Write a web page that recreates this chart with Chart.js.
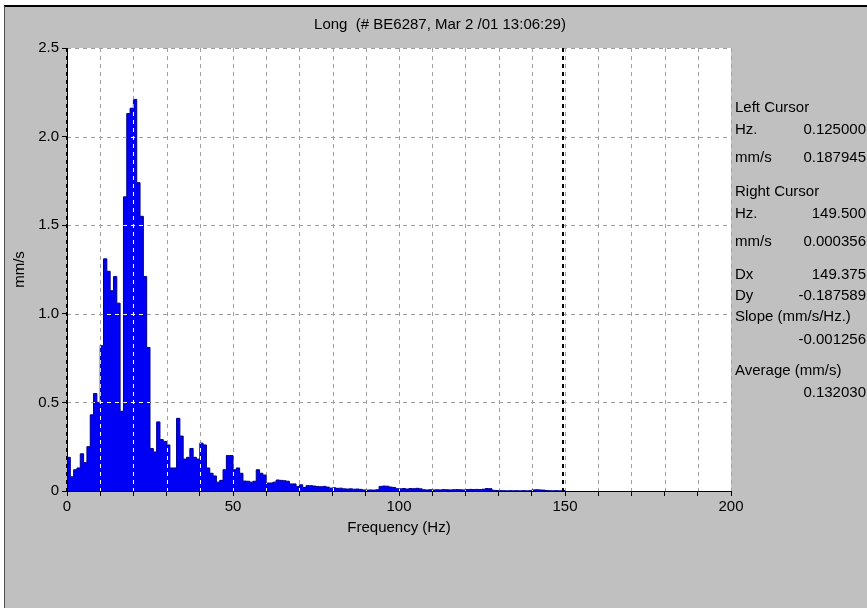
<!DOCTYPE html>
<html>
<head>
<meta charset="utf-8">
<script src="https://cdn.jsdelivr.net/npm/chart.js@4/dist/chart.umd.min.js"></script>
<style>
  html, body { margin: 0; padding: 0; background: #fff; }
  body { width: 867px; height: 608px; position: relative; overflow: hidden;
         font-family: "Liberation Sans", Arial, sans-serif; font-size: 15px; color: #000; }
  #panel { position: absolute; left: 4px; top: 5px; width: 863px; height: 603px;
           background: #c0c0c0; border-top: 2px solid #000; border-left: 1px solid #505050;
           box-sizing: border-box; }
  #spectrum { position: absolute; left: 0; top: 0; }
  #title { position: absolute; left: 440px; top: 15px; transform: translateX(-50%);
           white-space: pre; line-height: 18px; }
  .row { position: absolute; left: 735px; width: 131px; height: 18px; line-height: 18px; white-space: nowrap; }
  .row .v { position: absolute; right: 0; top: 0; }
</style>
</head>
<body>
<div id="panel"></div>
<canvas id="spectrum" width="867" height="608"></canvas>
<div id="title"></div>
<div id="readout"></div>
<script>
// spectrum, 1 Hz lines, bin i covers [i, i+1) Hz, values in mm/s
const binHz = 1;
const amplitude = [
  0.19, 0.08, 0.12, 0.13, 0.21, 0.16, 0.25, 0.43, 0.55, 0.50,
  0.82, 1.31, 1.24, 1.13, 1.21, 1.06, 0.45, 1.66, 2.13, 2.16,
  2.21, 1.74, 1.55, 1.21, 0.81, 0.24, 0.22, 0.39, 0.29, 0.28,
  0.26, 0.13, 0.13, 0.41, 0.31, 0.18, 0.19, 0.24, 0.19, 0.18,
  0.27, 0.26, 0.13, 0.10, 0.085, 0.05, 0.06, 0.12, 0.20, 0.20,
  0.12, 0.13, 0.10, 0.056, 0.055, 0.05, 0.055, 0.12, 0.10, 0.09,
  0.045, 0.045, 0.05, 0.062, 0.06, 0.058, 0.055, 0.04, 0.04, 0.025,
  0.035, 0.02, 0.03, 0.03, 0.028, 0.025, 0.024, 0.026, 0.022, 0.016,
  0.018, 0.015, 0.016, 0.012, 0.011, 0.012, 0.010, 0.011, 0.009, 0.006,
  0.005, 0.006, 0.005, 0.007, 0.026, 0.028, 0.027, 0.022, 0.020, 0.013,
  0.012, 0.014, 0.011, 0.014, 0.013, 0.015, 0.012, 0.007, 0.006, 0.007,
  0.006, 0.007, 0.006, 0.008, 0.007, 0.006, 0.007, 0.008, 0.007, 0.006,
  0.008, 0.009, 0.008, 0.009, 0.008, 0.010, 0.014, 0.013, 0.004, 0.003,
  0.002, 0.002, 0.001, 0.002, 0.001, 0.002, 0.001, 0.002, 0.001, 0.002,
  0.006, 0.007, 0.006, 0.005, 0.003, 0.002, 0.001, 0.002, 0.001, 0.003,
  0.0004
];
const freqHz = amplitude.map((_, i) => i * binHz);

const cursorHz = [0.125, 149.5];

const titleText = "Long  (# BE6287, Mar 2 /01 13:06:29)";
const readoutLabels = ["Left Cursor", "Hz.", "mm/s", "Right Cursor", "Hz.", "mm/s",
                       "Dx", "Dy", "Slope (mm/s/Hz.)", "", "Average (mm/s)", ""];
const readoutValues = ["", "0.125000", "0.187945", "", "149.500", "0.000356",
                       "149.375", "-0.187589", "", "-0.001256", "", "0.132030"];

// layout of the readout column (centre y of each line)
const readoutRowY = [107, 129, 157, 191, 213, 241, 274, 295, 316, 339, 370, 392];

document.getElementById("title").textContent = titleText;
const readout = document.getElementById("readout");
readoutLabels.forEach((lab, i) => {
  const row = document.createElement("div");
  row.className = "row";
  row.style.top = (readoutRowY[i] - 9) + "px";
  row.textContent = lab;
  const v = document.createElement("span");
  v.className = "v";
  v.textContent = readoutValues[i];
  row.appendChild(v);
  readout.appendChild(row);
});

const px = (v) => Math.round(v) + 0.5;

// white plot area behind everything
const plotBackground = {
  id: "plotBackground",
  beforeDraw(chart) {
    const { ctx, chartArea: a } = chart;
    ctx.save();
    ctx.fillStyle = "#ffffff";
    ctx.fillRect(a.left, a.top, a.right - a.left, a.bottom - a.top);
    ctx.restore();
  }
};

function strokeGrid(chart, color) {
  const { ctx, chartArea: a, scales: { x, y } } = chart;
  ctx.strokeStyle = color;
  ctx.lineWidth = 1;
  ctx.setLineDash([4, 4]);
  ctx.beginPath();
  x.ticks.forEach(t => {
    if (t.value === 0) return;
    const xp = px(x.getPixelForValue(t.value));
    ctx.moveTo(xp, a.top);
    ctx.lineTo(xp, a.bottom);
  });
  y.ticks.forEach(t => {
    if (t.value === 0) return;
    const yp = px(y.getPixelForValue(t.value));
    ctx.moveTo(a.left, yp);
    ctx.lineTo(a.right, yp);
  });
  ctx.stroke();
}

// grey dashed grid under the spectrum, white where it crosses the fill
const dashedGrid = {
  id: "dashedGrid",
  beforeDatasetsDraw(chart) {
    chart.ctx.save();
    strokeGrid(chart, "#a0a0a0");
    chart.ctx.restore();
  },
  afterDatasetsDraw(chart) {
    const { ctx, scales: { y } } = chart;
    const pts = chart.getDatasetMeta(0).data;
    const base = y.getPixelForValue(0);
    ctx.save();
    ctx.beginPath();
    ctx.moveTo(pts[0].x, base);
    pts.forEach((p, i) => {
      if (i > 0) ctx.lineTo(p.x, pts[i - 1].y);
      ctx.lineTo(p.x, p.y);
    });
    ctx.lineTo(pts[pts.length - 1].x, base);
    ctx.closePath();
    ctx.clip();
    strokeGrid(chart, "#ffffff");
    ctx.restore();
  }
};

// left / right cursor lines
const cursors = {
  id: "cursors",
  afterDraw(chart) {
    const { ctx, chartArea: a, scales: { x } } = chart;
    ctx.save();
    ctx.strokeStyle = "#000000";
    ctx.lineWidth = 2;
    ctx.setLineDash([4, 4]);
    cursorHz.forEach(hz => {
      const xp = Math.round(x.getPixelForValue(hz));
      ctx.beginPath();
      ctx.moveTo(xp, a.top);
      ctx.lineTo(xp, a.bottom);
      ctx.stroke();
    });
    ctx.restore();
  }
};

Chart.defaults.font.family = '"Liberation Sans", Arial, sans-serif';
Chart.defaults.font.size = 15;
Chart.defaults.color = "#000";

new Chart(document.getElementById("spectrum"), {
  type: "line",
  data: {
    datasets: [{
      data: freqHz.map((f, i) => ({ x: f, y: amplitude[i] })),
      stepped: "before",
      fill: "origin",
      backgroundColor: "#0000f4",
      borderColor: "#00008a",
      borderWidth: 1,
      pointRadius: 0
    }]
  },
  options: {
    responsive: false,
    animation: false,
    layout: { padding: { top: 48, right: 136, left: 0, bottom: 0 } },
    plugins: {
      legend: { display: false },
      tooltip: { enabled: false }
    },
    scales: {
      x: {
        type: "linear",
        min: 0,
        max: 200,
        afterFit: (s) => { s.height = 117; },
        ticks: {
          stepSize: 10,
          autoSkip: false,
          maxRotation: 0,
          padding: 2,
          callback: (v) => (v % 50 === 0 ? String(v) : "")
        },
        grid: { drawOnChartArea: false, drawTicks: true, tickLength: 5, tickColor: "#000" },
        border: { display: true, color: "#000", width: 1, z: 1 },
        title: { display: true, text: "Frequency (Hz)", padding: { top: 0, bottom: 71 } }
      },
      y: {
        min: 0,
        max: 2.5,
        afterFit: (s) => { s.width = 67; },
        ticks: {
          stepSize: 0.5,
          padding: 3,
          callback: (v) => (v === 0 ? "0" : v.toFixed(1))
        },
        grid: { drawOnChartArea: false, drawTicks: true, tickLength: 5, tickColor: "#000" },
        border: { display: true, color: "#000", width: 1, z: 1 },
        title: { display: true, text: "mm/s", padding: { top: 11, bottom: 0 } }
      }
    }
  },
  plugins: [plotBackground, dashedGrid, cursors]
});
</script>
</body>
</html>
